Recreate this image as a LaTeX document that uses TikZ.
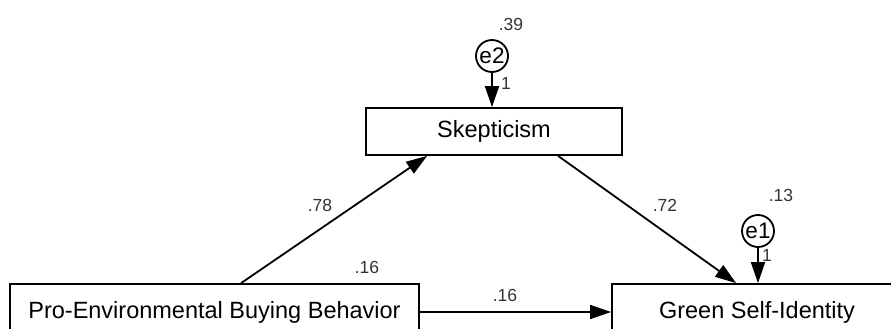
\documentclass[tikz,border=0pt]{standalone}
\usepackage{fontspec}
\setmainfont{Liberation Sans}
\usetikzlibrary{arrows.meta,calc}
\begin{document}
\begin{tikzpicture}[x=1pt,y=-1pt,
  box/.style={draw,line width=1.8pt,inner sep=0pt,font=\fontsize{23.5}{27}\selectfont},
  err/.style={draw,circle,line width=1.8pt,minimum size=32pt,inner sep=0pt,font=\fontsize{22.5}{25}\selectfont},
  lbl/.style={inner sep=0pt,font=\fontsize{17.5}{21}\selectfont,text=black!80},
  path/.style={line width=1.8pt,-{Triangle[length=21pt,width=14pt]}}]
\useasboundingbox (0,0) rectangle (891,329);
\clip (0,0) rectangle (891,329);
\node[box,minimum width=256pt,minimum height=47pt] (skep) at (494,131.5) {Skepticism};
\node[box,minimum width=409pt,minimum height=56pt] (pro) at (214.5,312) {Pro-Environmental Buying Behavior};
\node[box,minimum width=290pt,minimum height=56pt] (green) at (757,312) {Green Self-Identity};
\node[err] (e2) at (492,56) {e2};
\node[err] (e1) at (758,231) {e1};
\draw[path] (e2.south) -- (e2.south |- skep.north);
\draw[path] (e1.south) -- (e1.south |- green.north);
\draw[path] ($(pro.north west)+(232,0)$) -- ($(skep.south west)+(62,0)$);
\draw[path] ($(skep.south west)+(193,0)$) -- ($(green.north west)+(125,0)$);
\draw[path] (pro.east) -- (green.west);
\node[lbl] (l39) at (511,24) {.39};
\node[lbl] (l1a) at (506,83) {1};
\node[lbl] (l78) at (320,205) {.78};
\node[lbl] (l72) at (665,205) {.72};
\node[lbl] (l13) at (781,195) {.13};
\node[lbl] (l1b) at (767,255) {1};
\node[lbl] (l16a) at (367,267) {.16};
\node[lbl] (l16b) at (505,295) {.16};
\end{tikzpicture}
\end{document}
